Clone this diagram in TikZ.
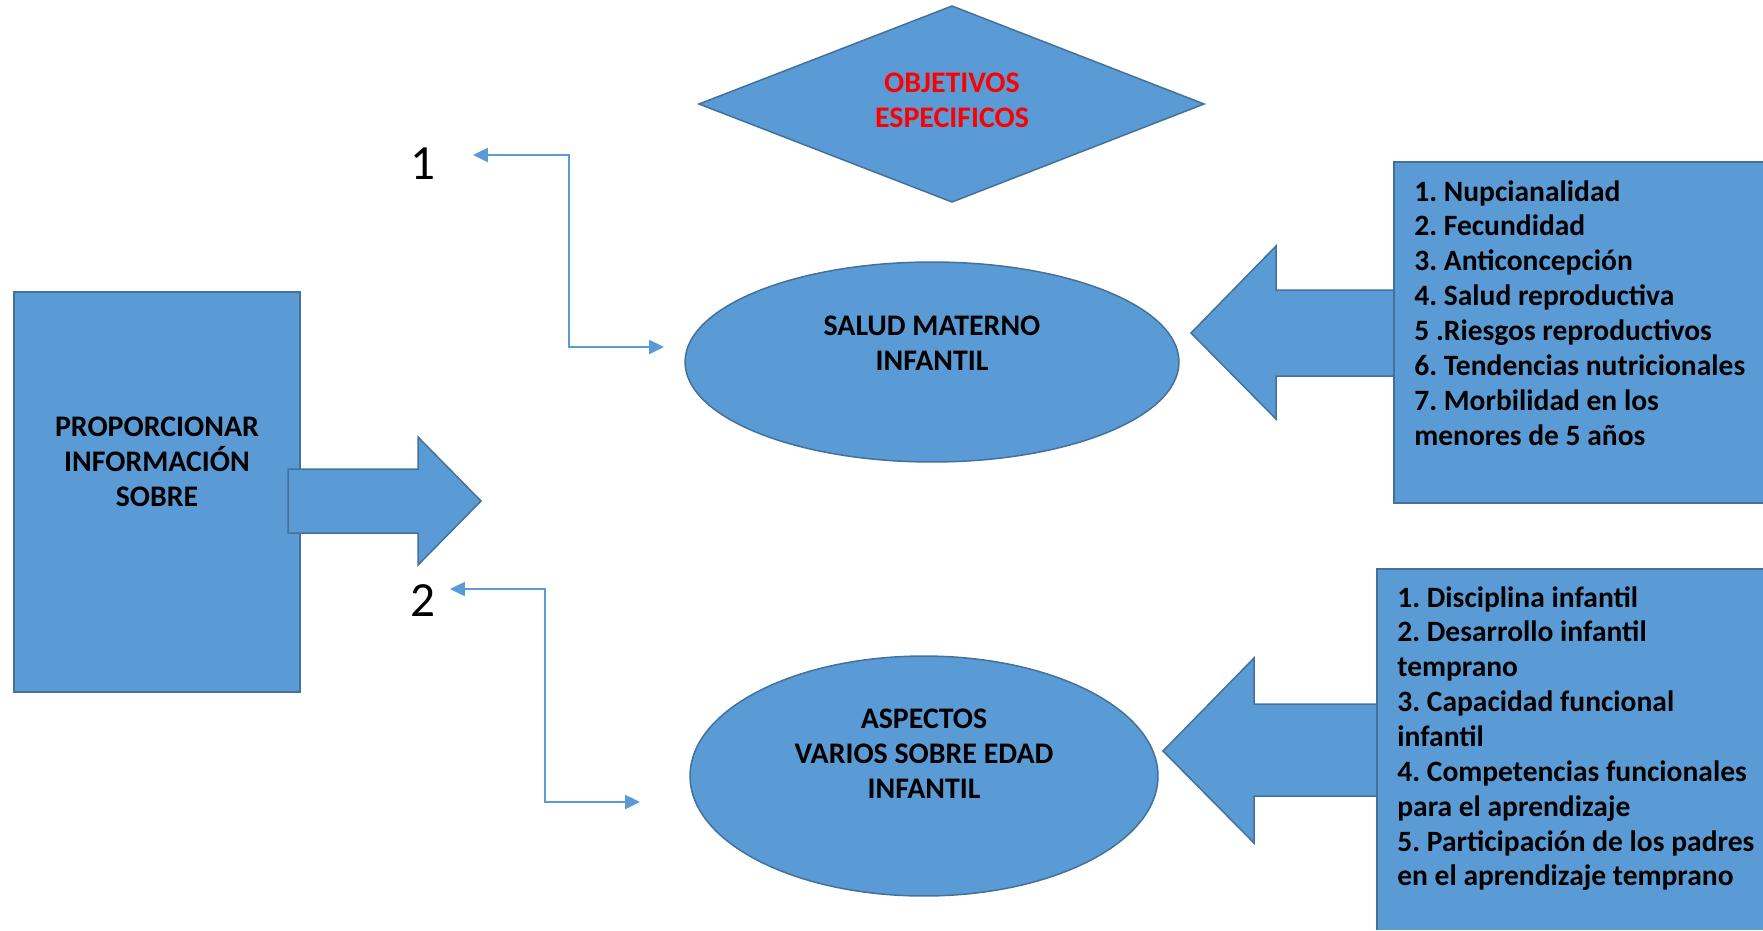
\documentclass[tikz,border=0pt]{standalone}
\usepackage{fontspec}
\setmainfont{Carlito}
\usetikzlibrary{arrows.meta,shapes.geometric}
\definecolor{fillblue}{HTML}{5B9BD5}
\definecolor{edgeblue}{HTML}{41719C}
\definecolor{connblue}{HTML}{5B9BD5}
\definecolor{redtxt}{HTML}{FF0000}
\frenchspacing
\begin{document}
\begin{tikzpicture}[x=0.02cm,y=-0.02cm,
  shapestyle/.style={fill=fillblue,draw=edgeblue,line width=0.85pt},
  lbl/.style={font=\fontsize{17}{19.84}\selectfont\bfseries,align=center,inner sep=0pt},
  listtxt/.style={font=\fontsize{16.8}{19.84}\selectfont\bfseries,align=left,inner sep=0pt,anchor=north west},
  conn/.style={draw=connblue,line width=1.2pt,{Triangle[length=8.5pt,width=8pt]}-{Triangle[length=8.5pt,width=8pt]}},
  num/.style={font=\fontsize{28}{30}\selectfont,inner sep=0pt}]
\useasboundingbox (0,0) rectangle (1763,930);

% diamond
\draw[shapestyle] (699,104) -- (952,6) -- (1204,104) -- (952,202) -- cycle;
\node[lbl,text=redtxt] (obj) at (952,100) {OBJETIVOS\\ESPECIFICOS};

% source rectangle
\node[shapestyle,rectangle,minimum width=5.72cm,minimum height=8cm,inner sep=0pt] (src) at (157,492) {};
\node[lbl] (srct) at (157,462) {PROPORCIONAR\\INFORMACIÓN\\SOBRE};

% left block arrow
\draw[shapestyle] (288,469) -- (418,469) -- (418,437) -- (481,501) -- (418,565) -- (418,533) -- (288,533) -- cycle;

% ellipses
\node[shapestyle,ellipse,minimum width=9.88cm,minimum height=4cm,inner sep=0pt] (e1) at (932,362) {};
\node[lbl] (e1t) at (932,343) {SALUD MATERNO\\INFANTIL};
\node[shapestyle,ellipse,minimum width=9.36cm,minimum height=4.8cm,inner sep=0pt] (e2) at (924,776) {};
\node[lbl] (e2t) at (924,754) {ASPECTOS\\VARIOS SOBRE EDAD\\INFANTIL};

% right block arrows
\draw[shapestyle] (1394,290) -- (1276,290) -- (1276,246) -- (1191,333) -- (1276,419) -- (1276,376) -- (1394,376) -- cycle;
\draw[shapestyle] (1377,704) -- (1254,704) -- (1254,658) -- (1163,751) -- (1254,843) -- (1254,796) -- (1377,796) -- cycle;

% list boxes
\fill[fillblue] (1394,162) rectangle (1763,503);
\draw[edgeblue,line width=0.85pt] (1763,162) -- (1394,162) -- (1394,503) -- (1763,503);
\fill[fillblue] (1377,569) rectangle (1763,930);
\draw[edgeblue,line width=0.85pt] (1763,569) -- (1377,569) -- (1377,930);

\node[listtxt] (list1) at (1414,180) {1. Nupcianalidad\\2. Fecundidad\\3. Anticoncepción\\4. Salud reproductiva\\5 .Riesgos reproductivos\\6. Tendencias nutricionales\\7. Morbilidad en los\\menores de 5 años};
\node[listtxt] (list2) at (1397,586) {1. Disciplina infantil\\2. Desarrollo infantil\\temprano\\3. Capacidad funcional\\infantil\\4. Competencias funcionales\\para el aprendizaje\\5. Participación de los padres\\en el aprendizaje temprano};

% numbers
\node[num] (n1) at (423,164) {1};
\node[num] (n2) at (423,601) {2};

% connectors
\coordinate (a1) at (473,155);
\coordinate (k1) at (569,250);
\coordinate (b1) at (664,347);
\draw[conn] (a1) -| (k1) |- (b1);
\coordinate (a2) at (450,589);
\coordinate (k2) at (545,700);
\coordinate (b2) at (640,802);
\draw[conn] (a2) -| (k2) |- (b2);
\end{tikzpicture}
\end{document}
